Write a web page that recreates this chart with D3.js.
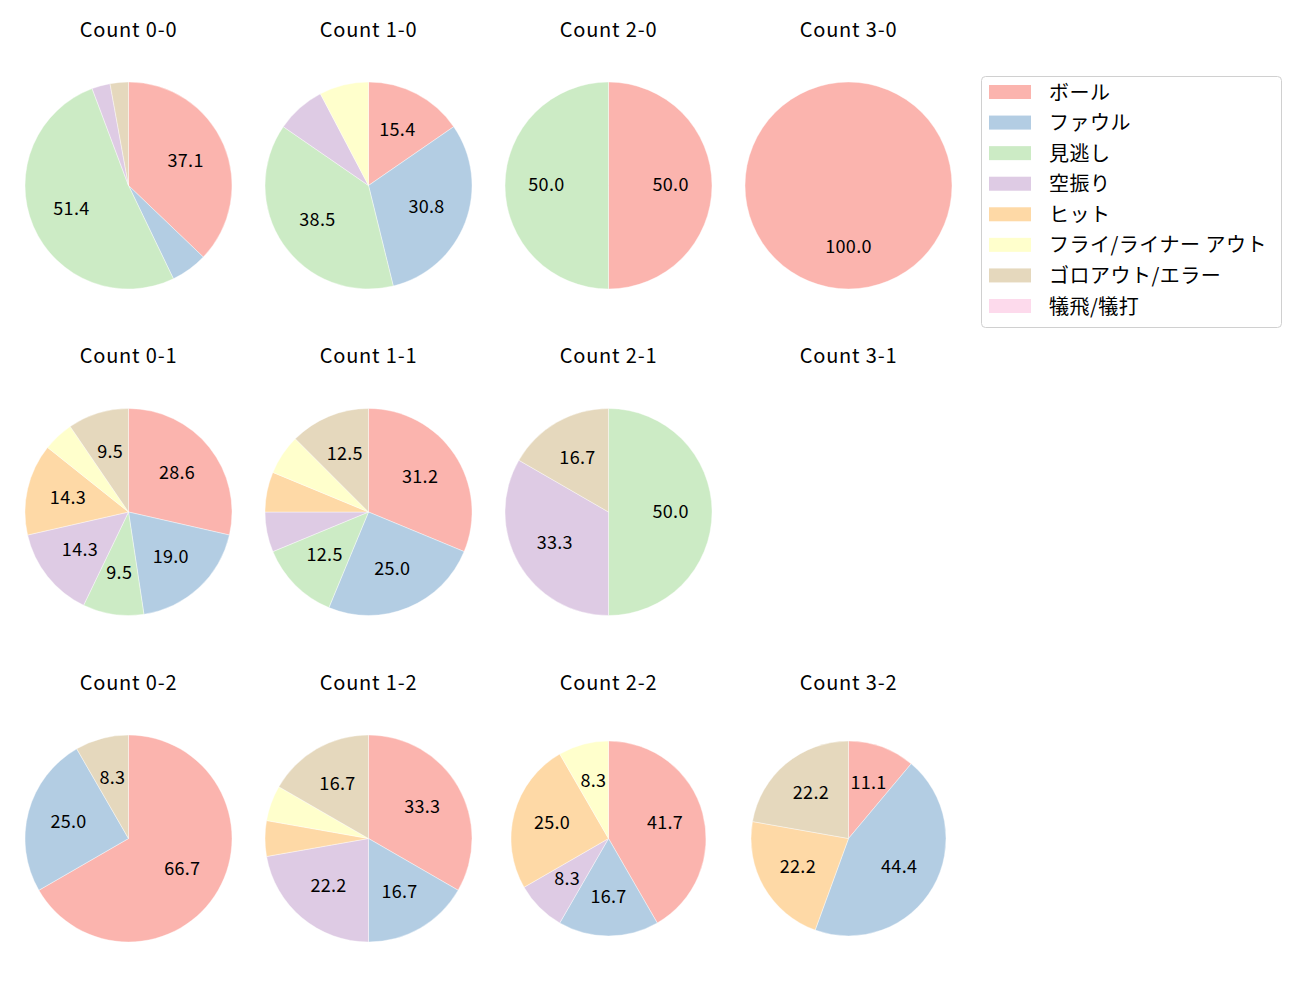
<!DOCTYPE html>
<html>
<head>
<meta charset="utf-8">
<script src="https://cdn.jsdelivr.net/npm/d3@7"></script>
<style>
  html, body { margin: 0; padding: 0; background: #fff; }
  svg { display: block; font-family: "Noto Sans CJK JP", "Noto Sans", sans-serif; }
</style>
</head>
<body>
<svg id="chart" width="1300" height="1000"></svg>
<script>
// ---- data ----
const categories = ["ボール", "ファウル", "見逃し", "空振り", "ヒット", "フライ/ライナー アウト", "ゴロアウト/エラー", "犠飛/犠打"];
const colors = ["#fbb4ae", "#b3cde3", "#ccebc5", "#decbe4", "#fed9a6", "#ffffcc", "#e5d8bd", "#fddaec"];
const countTitles = ["Count 0-0", "Count 1-0", "Count 2-0", "Count 3-0",
                     "Count 0-1", "Count 1-1", "Count 2-1", "Count 3-1",
                     "Count 0-2", "Count 1-2", "Count 2-2", "Count 3-2"];
const count00 = [13, 2, 18, 1, 0, 0, 1, 0];
const count10 = [2, 4, 5, 1, 0, 1, 0, 0];
const count20 = [1, 0, 1, 0, 0, 0, 0, 0];
const count30 = [1, 0, 0, 0, 0, 0, 0, 0];
const count01 = [6, 4, 2, 3, 3, 1, 2, 0];
const count11 = [5, 4, 2, 1, 1, 1, 2, 0];
const count21 = [0, 0, 3, 2, 0, 0, 1, 0];
const count31 = [0, 0, 0, 0, 0, 0, 0, 0];
const count02 = [8, 3, 0, 0, 0, 0, 1, 0];
const count12 = [6, 3, 0, 4, 1, 1, 3, 0];
const count22 = [5, 2, 0, 1, 3, 1, 0, 0];
const count32 = [1, 4, 0, 0, 2, 0, 2, 0];
const countValues = [count00, count10, count20, count30,
                     count01, count11, count21, count31,
                     count02, count12, count22, count32];

// ---- layout ----
const svg = d3.select("#chart");
svg.append("rect").attr("width", 1300).attr("height", 1000).attr("fill", "#fff");

const colX = d3.scaleLinear().domain([0, 3]).range([128.5, 848.5]);
const rowY = d3.scaleLinear().domain([0, 2]).range([185.5, 838.5]);
const titleOffset = 157.5;
const radiusOf = i => (i === 10 || i === 11) ? 97.5 : 103.5;
const color = d3.scaleOrdinal().domain(categories).range(colors);

function fmtPct(p) {
  const v = p * 10;
  const f = Math.floor(v);
  let n;
  if (Math.abs(v - f - 0.5) < 1e-9) n = (f % 2 === 0) ? f : f + 1;
  else n = Math.round(v);
  return (n / 10).toFixed(1);
}

const pie = d3.pie().sort(null).value(d => d.v).startAngle(0).endAngle(2 * Math.PI);

countValues.forEach((vals, i) => {
  const col = i % 4, row = Math.floor(i / 4);
  const cx = colX(col), cy = rowY(row);
  const r = radiusOf(i);
  const g = svg.append("g").attr("transform", `translate(${cx},${cy})`);
  g.append("text")
    .attr("x", 0).attr("y", -titleOffset)
    .attr("text-anchor", "middle").attr("dominant-baseline", "central")
    .attr("font-size", 20).attr("letter-spacing", "0.8px").attr("fill", "#000")
    .text(countTitles[i]);
  const total = d3.sum(vals);
  if (total === 0) return;
  const data = vals.map((v, k) => ({ v, cat: categories[k] }));
  const arcs = pie(data);
  const arc = d3.arc().innerRadius(0).outerRadius(r);
  g.selectAll("path").data(arcs.filter(a => a.data.v > 0)).join("path")
    .attr("d", arc)
    .attr("fill", a => color(a.data.cat))
    .attr("stroke", "#fff").attr("stroke-width", 0.4);
  g.selectAll("text.lbl").data(arcs.filter(a => a.data.v / total * 100 >= 8)).join("text")
    .attr("class", "lbl")
    .attr("transform", a => {
      const m = (a.startAngle + a.endAngle) / 2;
      return `translate(${Math.sin(m) * r * 0.6},${-Math.cos(m) * r * 0.6 - 2.5})`;
    })
    .attr("text-anchor", "middle").attr("dominant-baseline", "central")
    .attr("font-size", 18).attr("letter-spacing", "0.3px").attr("fill", "#000")
    .text(a => fmtPct(a.data.v / total * 100));
});

// ---- legend ----
const legend = svg.append("g").attr("transform", "translate(981,76)");
legend.append("rect")
  .attr("x", 0.5).attr("y", 0.5).attr("width", 300).attr("height", 251)
  .attr("rx", 4).attr("fill", "#fff").attr("stroke", "#d0d0d0").attr("stroke-width", 1);
const ly = d3.scaleLinear().domain([0, 7]).range([16, 230]);
const items = legend.selectAll("g.item").data(categories).join("g")
  .attr("class", "item")
  .attr("transform", (d, k) => `translate(0,${ly(k)})`);
items.append("rect").attr("x", 8).attr("y", -7).attr("width", 42).attr("height", 14)
  .attr("fill", d => color(d));
items.append("text").attr("x", 68).attr("y", -1)
  .attr("dominant-baseline", "central").attr("font-size", 20).attr("letter-spacing", "0.5px").attr("fill", "#000")
  .text(d => d);
</script>
</body>
</html>
